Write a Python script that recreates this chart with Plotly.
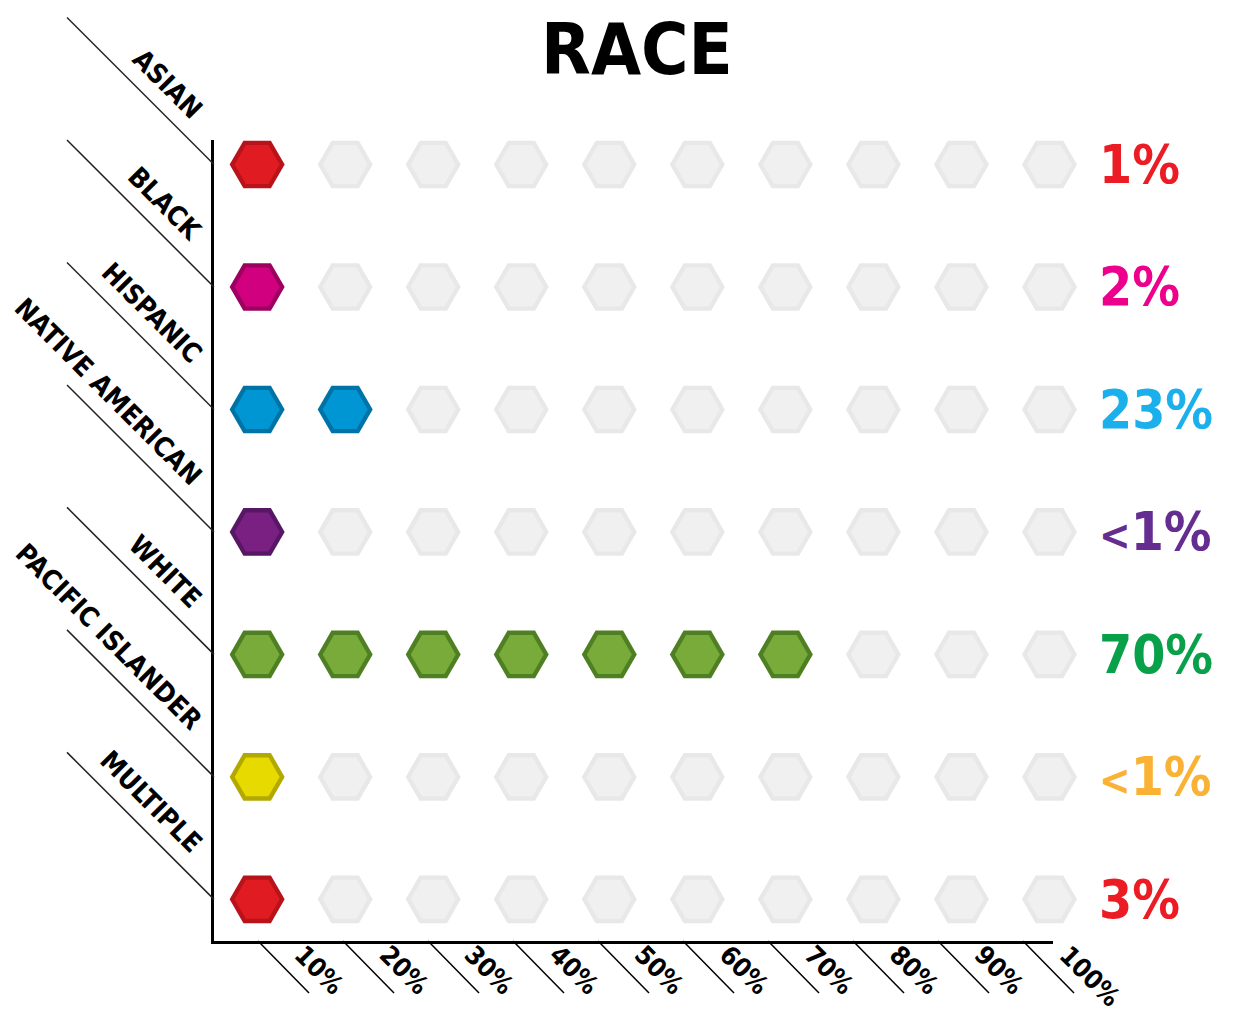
import plotly.graph_objects as go

# ---- data ----
categories = ["ASIAN", "BLACK", "HISPANIC", "NATIVE AMERICAN", "WHITE", "PACIFIC ISLANDER", "MULTIPLE"]
pct_labels = ["1%", "2%", "23%", "<1%", "70%", "<1%", "3%"]
filled_counts = [1, 1, 2, 1, 7, 1, 1]
tick_values = [10, 20, 30, 40, 50, 60, 70, 80, 90, 100]
tick_labels = ["10%", "20%", "30%", "40%", "50%", "60%", "70%", "80%", "90%", "100%"]
columns = list(range(1, 11))

# ---- styles ----
hex_dark = ["#b8131b", "#9c0060", "#0073a6", "#581765", "#4e7f22", "#b3a800", "#b8131b"]
hex_main = ["#e01b22", "#d1007e", "#0096d4", "#7a2082", "#78ab39", "#e6da00", "#e01b22"]
label_colors = ["#ec1c24", "#ec008c", "#1bb0ec", "#662d91", "#09a04a", "#f9b233", "#ec1c24"]
gray_dark = "#e8e8e8"
gray_main = "#f0f0f0"
FONT = "DejaVu Sans Condensed"

n = len(categories)
row_y = [n - 1 - i for i in range(n)]  # top row highest

X_RANGE = [0.51, 10.04]       # hexagon columns
PCT_RANGE = [4.82, 103.53]    # percent scale of the bottom axis
Y_RANGE = [-0.34, 6.2]

def xp(v):
    return (v - PCT_RANGE[0]) / (PCT_RANGE[1] - PCT_RANGE[0])

def yp(v):
    return (v - Y_RANGE[0]) / (Y_RANGE[1] - Y_RANGE[0])

def fmt_pct(s):
    if s.startswith("<"):
        return "<span style='font-size:42px'>&lt;</span>" + s[1:]
    return s

fig = go.Figure()

for i, cat in enumerate(categories):
    k = filled_counts[i]
    ys = [row_y[i]] * len(columns)
    dark = [hex_dark[i] if c <= k else gray_dark for c in columns]
    main = [hex_main[i] if c <= k else gray_main for c in columns]
    fig.add_trace(go.Scatter(x=columns, y=ys, mode="markers", hoverinfo="skip", cliponaxis=False,
                             marker=dict(symbol="hexagon2", size=55, color=dark, line=dict(width=0)),
                             showlegend=False))
    fig.add_trace(go.Scatter(x=columns, y=ys, mode="markers", hoverinfo="skip", cliponaxis=False,
                             marker=dict(symbol="hexagon2", size=45, color=main, line=dict(width=0)),
                             showlegend=False))

shapes = []
annotations = []
bold = dict(family=FONT, weight="bold")

# row diagonal lines + labels
for i, cat in enumerate(categories):
    shapes.append(dict(type="line", xref="paper", yref="paper",
                       xsizemode="pixel", ysizemode="pixel",
                       xanchor=0, yanchor=yp(row_y[i]),
                       x0=-147, y0=147, x1=0, y1=0,
                       line=dict(color="#222222", width=1.5)))
    annotations.append(dict(text=cat, xref="paper", yref="paper", x=0, y=yp(row_y[i]),
                            xanchor="right", yanchor="bottom", xshift=-3, yshift=38,
                            textangle=45, showarrow=False,
                            font=dict(size=27, color="black", **bold)))
    annotations.append(dict(text=fmt_pct(pct_labels[i]), xref="paper", yref="paper", x=1.052, y=yp(row_y[i]),
                            xanchor="left", yanchor="middle", showarrow=False,
                            font=dict(size=53, color=label_colors[i], **bold)))

# bottom diagonal ticks + labels
for v, t in zip(tick_values, tick_labels):
    shapes.append(dict(type="line", xref="paper", yref="paper",
                       xsizemode="pixel", ysizemode="pixel",
                       xanchor=xp(v), yanchor=0,
                       x0=0, y0=0, x1=51, y1=-52,
                       line=dict(color="black", width=1.5)))
    annotations.append(dict(text=t, xref="paper", yref="paper", x=xp(v), y=0,
                            xanchor="left", yanchor="top", xshift=28, yshift=4,
                            textangle=45, showarrow=False,
                            font=dict(size=26, color="black", **bold)))

annotations.append(dict(text="RACE", xref="paper", yref="paper", x=(637 - 214) / 839, y=1.114,
                        xanchor="center", yanchor="middle", showarrow=False,
                        font=dict(size=72, color="black", **bold)))

fig.update_layout(
    width=1236, height=1012,
    margin=dict(l=214, r=183, t=140, b=71),
    plot_bgcolor="white", paper_bgcolor="white",
    shapes=shapes, annotations=annotations,
    hovermode=False,
    xaxis=dict(range=X_RANGE, showgrid=False, zeroline=False, showticklabels=False,
               ticks="", showline=True, linecolor="black", linewidth=3, fixedrange=True),
    yaxis=dict(range=Y_RANGE, showgrid=False, zeroline=False, showticklabels=False,
               ticks="", showline=True, linecolor="black", linewidth=3, fixedrange=True),
)

fig.write_html("out.html", config={"displayModeBar": False},
               post_script="document.body.style.margin='0';")
